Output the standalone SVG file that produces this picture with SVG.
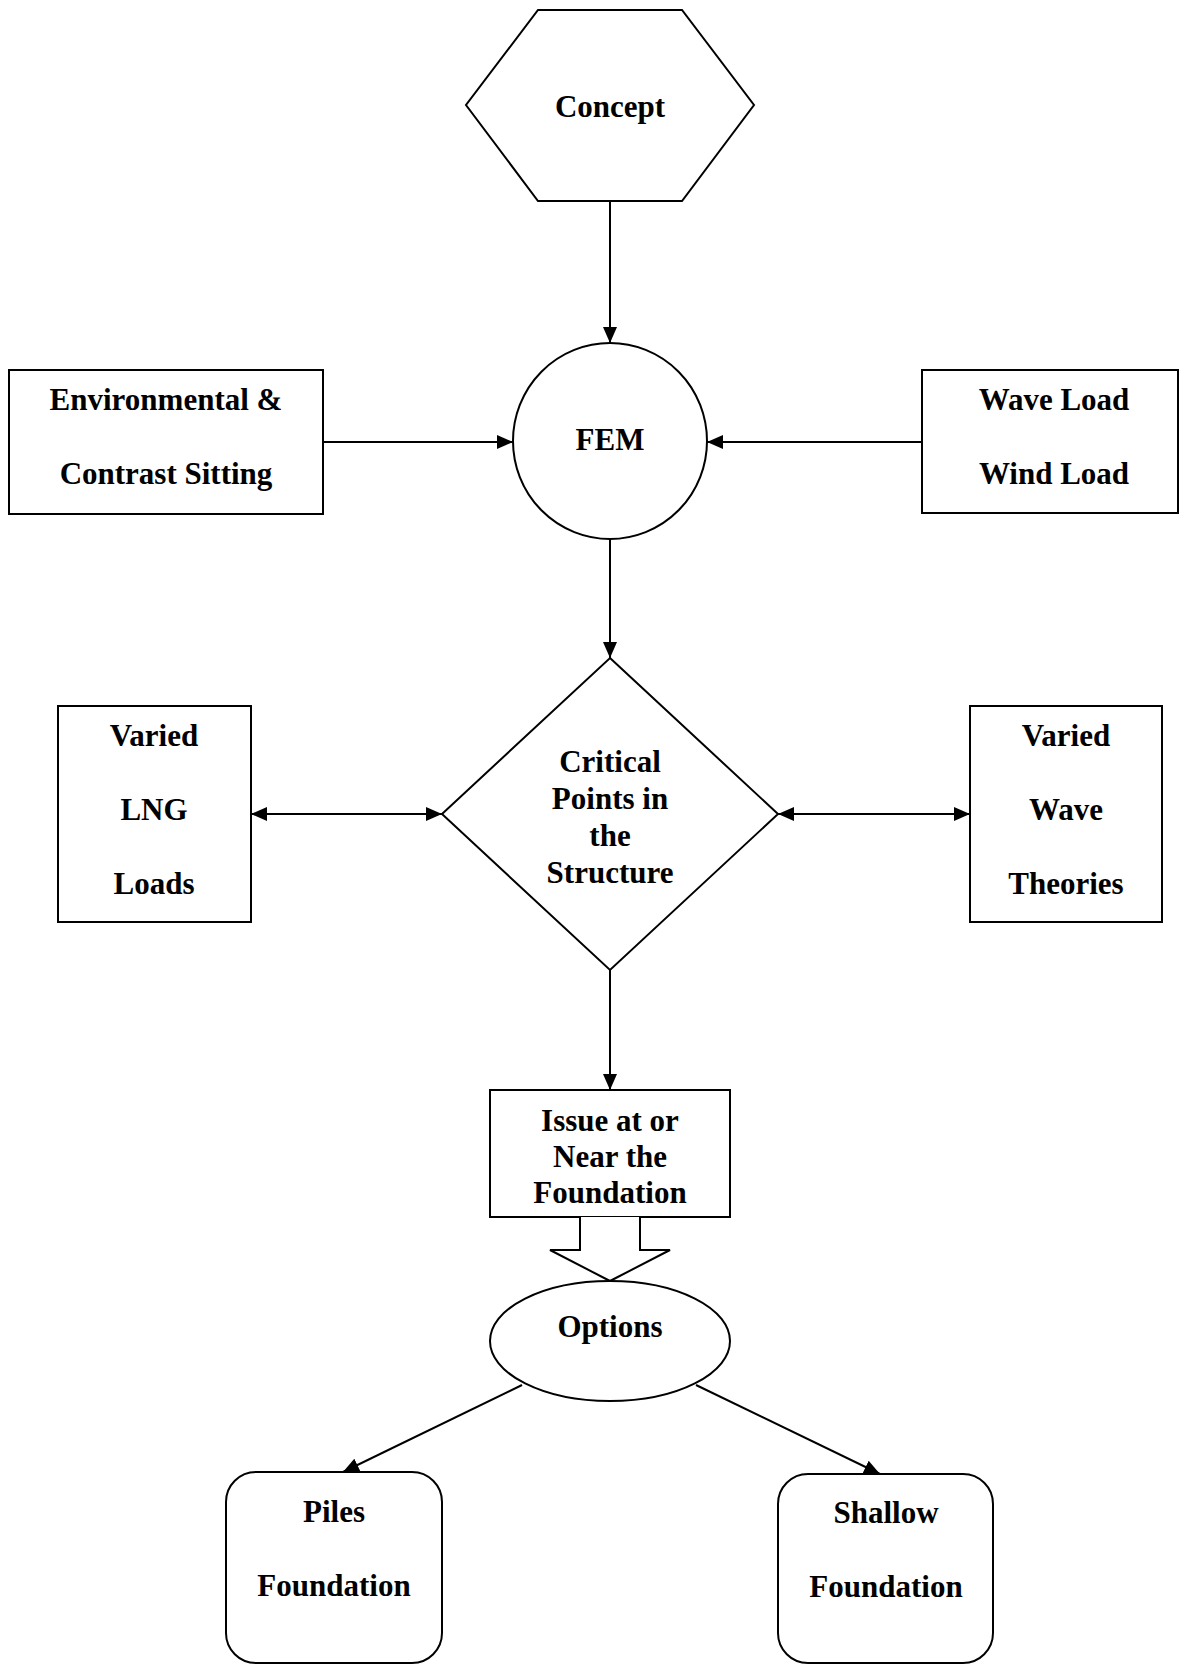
<svg xmlns="http://www.w3.org/2000/svg" width="1179" height="1665" viewBox="0 0 1179 1665">
  <style>
    .shape { fill: #ffffff; stroke: #000000; stroke-width: 2; }
    .link { fill: none; stroke: #000000; stroke-width: 2; }
    text { font-family: "Liberation Serif", "Times New Roman", serif; font-weight: bold; font-size: 31px; fill: #000000; text-anchor: middle; }
  </style>
  <defs>
    <marker id="head" viewBox="0 0 16 14" refX="16" refY="7" markerWidth="16" markerHeight="14" markerUnits="userSpaceOnUse" orient="auto-start-reverse">
      <path d="M0,0 L16,7 L0,14 Z" fill="#000000"/>
    </marker>
  </defs>
  <rect width="1179" height="1665" fill="#ffffff"/>

  <!-- connectors -->
  <g id="connectors">
    <line class="link" x1="610" y1="201" x2="610" y2="343" marker-end="url(#head)"/>
    <line class="link" x1="323" y1="442" x2="513" y2="442" marker-end="url(#head)"/>
    <line class="link" x1="922" y1="442" x2="707" y2="442" marker-end="url(#head)"/>
    <line class="link" x1="610" y1="540" x2="610" y2="658" marker-end="url(#head)"/>
    <line class="link" x1="251" y1="814" x2="442" y2="814" marker-start="url(#head)" marker-end="url(#head)"/>
    <line class="link" x1="778" y1="814" x2="970" y2="814" marker-start="url(#head)" marker-end="url(#head)"/>
    <line class="link" x1="610" y1="970" x2="610" y2="1090" marker-end="url(#head)"/>
    <line class="link" x1="522" y1="1385" x2="343" y2="1472" marker-end="url(#head)"/>
    <line class="link" x1="696" y1="1385" x2="880" y2="1474" marker-end="url(#head)"/>
  </g>

  <g id="concept">
    <polygon class="shape" points="538,10 682,10 754,105 682,201 538,201 466,105"/>
    <text x="610" y="117">Concept</text>
  </g>

  <g id="fem">
    <ellipse class="shape" cx="610" cy="441" rx="97" ry="98"/>
    <text x="610" y="450">FEM</text>
  </g>

  <g id="environmental">
    <rect class="shape" x="9" y="370" width="314" height="144"/>
    <text x="166" y="410">Environmental &amp;</text>
    <text x="166" y="484">Contrast Sitting</text>
  </g>

  <g id="loads">
    <rect class="shape" x="922" y="370" width="256" height="143"/>
    <text x="1054" y="410">Wave Load</text>
    <text x="1054" y="484">Wind Load</text>
  </g>

  <g id="critical-points">
    <polygon class="shape" points="610,658 778,814 610,970 442,814"/>
    <text x="610" y="772">Critical</text>
    <text x="610" y="809">Points in</text>
    <text x="610" y="846">the</text>
    <text x="610" y="883">Structure</text>
  </g>

  <g id="lng-loads">
    <rect class="shape" x="58" y="706" width="193" height="216"/>
    <text x="154" y="746">Varied</text>
    <text x="154" y="820">LNG</text>
    <text x="154" y="894">Loads</text>
  </g>

  <g id="wave-theories">
    <rect class="shape" x="970" y="706" width="192" height="216"/>
    <text x="1066" y="746">Varied</text>
    <text x="1066" y="820">Wave</text>
    <text x="1066" y="894">Theories</text>
  </g>

  <g id="foundation-issue">
    <rect class="shape" x="490" y="1090" width="240" height="127"/>
    <text x="610" y="1131">Issue at or</text>
    <text x="610" y="1167">Near the</text>
    <text x="610" y="1203">Foundation</text>
    <!-- block arrow into the options -->
    <path class="shape" d="M580,1217 L580,1250 L550,1250 L610,1281 L670,1250 L640,1250 L640,1217"/>
  </g>

  <g id="options">
    <ellipse class="shape" cx="610" cy="1341" rx="120" ry="60"/>
    <text x="610" y="1337">Options</text>
  </g>

  <g id="piles">
    <rect class="shape" x="226" y="1472" width="216" height="191" rx="30" ry="30"/>
    <text x="334" y="1522">Piles</text>
    <text x="334" y="1596">Foundation</text>
  </g>

  <g id="shallow">
    <rect class="shape" x="778" y="1474" width="215" height="189" rx="30" ry="30"/>
    <text x="886" y="1523">Shallow</text>
    <text x="886" y="1597">Foundation</text>
  </g>
</svg>
